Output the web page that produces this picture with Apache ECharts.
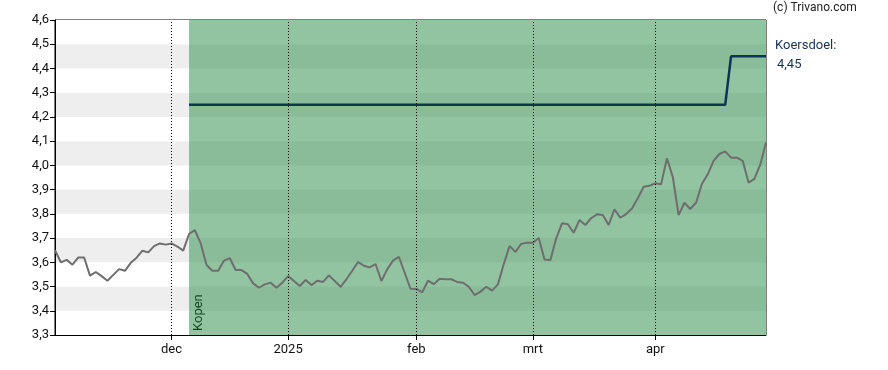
<!DOCTYPE html>
<html><head><meta charset="utf-8">
<script src="https://cdn.jsdelivr.net/npm/echarts@6/dist/echarts.min.js"></script>
<style>html,body{margin:0;padding:0;background:#fff}#c{width:888px;height:370px}</style>
</head><body><div id="c"></div>
<script>
const dates = [
'2024-11-04','2024-11-05','2024-11-06','2024-11-07','2024-11-08','2024-11-11','2024-11-12','2024-11-13','2024-11-14','2024-11-15',
'2024-11-18','2024-11-19','2024-11-20','2024-11-21','2024-11-22','2024-11-25','2024-11-26','2024-11-27','2024-11-28','2024-11-29',
'2024-12-02','2024-12-03','2024-12-04','2024-12-05','2024-12-06','2024-12-09','2024-12-10','2024-12-11','2024-12-12','2024-12-13',
'2024-12-16','2024-12-17','2024-12-18','2024-12-19','2024-12-20','2024-12-23','2024-12-24','2024-12-27','2024-12-30','2024-12-31',
'2025-01-02','2025-01-03','2025-01-06','2025-01-07','2025-01-08','2025-01-09','2025-01-10','2025-01-13','2025-01-14','2025-01-15',
'2025-01-16','2025-01-17','2025-01-20','2025-01-21','2025-01-22','2025-01-23','2025-01-24','2025-01-27','2025-01-28','2025-01-29',
'2025-01-30','2025-01-31','2025-02-03','2025-02-04','2025-02-05','2025-02-06','2025-02-07','2025-02-10','2025-02-11','2025-02-12',
'2025-02-13','2025-02-14','2025-02-17','2025-02-18','2025-02-19','2025-02-20','2025-02-21','2025-02-24','2025-02-25','2025-02-26',
'2025-02-27','2025-02-28','2025-03-03','2025-03-04','2025-03-05','2025-03-06','2025-03-07','2025-03-10','2025-03-11','2025-03-12',
'2025-03-13','2025-03-14','2025-03-17','2025-03-18','2025-03-19','2025-03-20','2025-03-21','2025-03-24','2025-03-25','2025-03-26',
'2025-03-27','2025-03-28','2025-03-31','2025-04-01','2025-04-02','2025-04-03','2025-04-04','2025-04-07','2025-04-08','2025-04-09',
'2025-04-10','2025-04-11','2025-04-14','2025-04-15','2025-04-16','2025-04-17','2025-04-22','2025-04-23','2025-04-24','2025-04-25',
'2025-04-28','2025-04-29','2025-04-30'
];
const prices = [
3.65,3.60,3.61,3.59,3.62,3.62,3.545,3.56,3.543,3.524,
3.548,3.572,3.565,3.598,3.619,3.648,3.641,3.667,3.678,3.673,
3.678,3.665,3.648,3.717,3.733,3.678,3.589,3.565,3.565,3.607,
3.617,3.568,3.568,3.552,3.513,3.495,3.509,3.516,3.495,3.516,
3.543,3.523,3.502,3.527,3.506,3.524,3.519,3.546,3.523,3.499,
3.530,3.565,3.601,3.586,3.579,3.593,3.523,3.571,3.607,3.623,
3.557,3.491,3.490,3.476,3.524,3.510,3.532,3.530,3.530,3.519,
3.516,3.499,3.465,3.479,3.499,3.483,3.509,3.593,3.667,3.643,
3.676,3.681,3.681,3.700,3.612,3.609,3.699,3.761,3.757,3.722,
3.775,3.754,3.782,3.798,3.795,3.754,3.819,3.784,3.799,3.822,
3.864,3.912,3.916,3.926,3.922,4.029,3.953,3.795,3.846,3.820,
3.846,3.923,3.963,4.019,4.047,4.058,4.032,4.032,4.019,3.929,
3.944,4.002,4.094
];
const targetSteps = [['2024-12-05',4.25],['2025-04-17',4.25],['2025-04-22',4.45],['2025-04-30',4.45]];
const monthTicks = {'2024-12-02':'dec','2025-01-02':'2025','2025-02-03':'feb','2025-03-03':'mrt','2025-04-01':'apr'};
const buyDate = '2024-12-05';
const buyLabel = 'Kopen';
const targetLabel = 'Koersdoel:';
const targetValueText = '4,45';
const yMin = 3.3, yMax = 4.6, yStep = 0.1;

const chart = echarts.init(document.getElementById('c'), null, {renderer:'canvas'});
const isTick = (i, v) => monthTicks[v] !== undefined;
const FONT = 'Roboto';
chart.setOption({
  animation:false,
  textStyle:{fontFamily:FONT},
  grid:{left:55,right:122,top:20,bottom:35,show:true,borderColor:'#000',borderWidth:1,backgroundColor:'transparent'},
  xAxis:{type:'category',data:dates,boundaryGap:false,
    axisLine:{lineStyle:{color:'#000',width:1}},
    axisTick:{show:true,interval:isTick,length:5,lineStyle:{color:'#000'}},
    axisLabel:{interval:isTick,formatter:v=>monthTicks[v]||'',color:'#111',fontSize:13,fontFamily:FONT,margin:8},
    splitLine:{show:false}},
  yAxis:{type:'value',min:yMin,max:yMax,interval:yStep,
    axisLine:{show:true,lineStyle:{color:'#000',width:1}},
    axisTick:{show:true,length:5,lineStyle:{color:'#000'}},
    axisLabel:{formatter:v=>v.toFixed(1).replace('.',','),color:'#111',fontSize:13,fontFamily:FONT,margin:6},
    splitLine:{show:false},
    splitArea:{show:true,areaStyle:{color:['#ffffff','#eeeeee']}}},
  series:[
    {type:'line',data:[],z:1,silent:true,
      markArea:{silent:true,itemStyle:{color:'rgba(39,137,69,0.5)'},data:[[{xAxis:buyDate},{xAxis:dates[dates.length-1]}]]}},
    {type:'line',data:[],z:2,silent:true,
      markLine:{silent:true,symbol:['none','none'],label:{show:false},
        lineStyle:{type:[1,2],color:'#000',width:1},
        data:Object.keys(monthTicks).map(d=>({xAxis:d}))}},
    {type:'line',data:targetSteps,z:4,symbol:'none',silent:true,
      lineStyle:{color:'#0b3558',width:2.5}},
    {type:'line',data:prices,z:3,symbol:'none',silent:true,
      lineStyle:{color:'#6e6e6e',width:2}}
  ]
});
const bx = chart.convertToPixel({xAxisIndex:0}, buyDate);
const by = chart.convertToPixel({yAxisIndex:0}, yMin);
chart.setOption({graphic:[
  {type:'text',x:bx+3,y:by-4,rotation:Math.PI/2,silent:true,
    style:{text:buyLabel,fill:'#000',font:'13px '+FONT,align:'left',verticalAlign:'top'}},
  {type:'text',left:773,top:2,silent:true,style:{text:'(c) Trivano.com',fill:'#222',font:'12px '+FONT}},
  {type:'text',left:775,top:39,silent:true,style:{text:targetLabel,fill:'#17324f',font:'13px '+FONT}},
  {type:'text',left:777,top:58,silent:true,style:{text:targetValueText,fill:'#17324f',font:'13px '+FONT}}
]});
</script></body></html>
